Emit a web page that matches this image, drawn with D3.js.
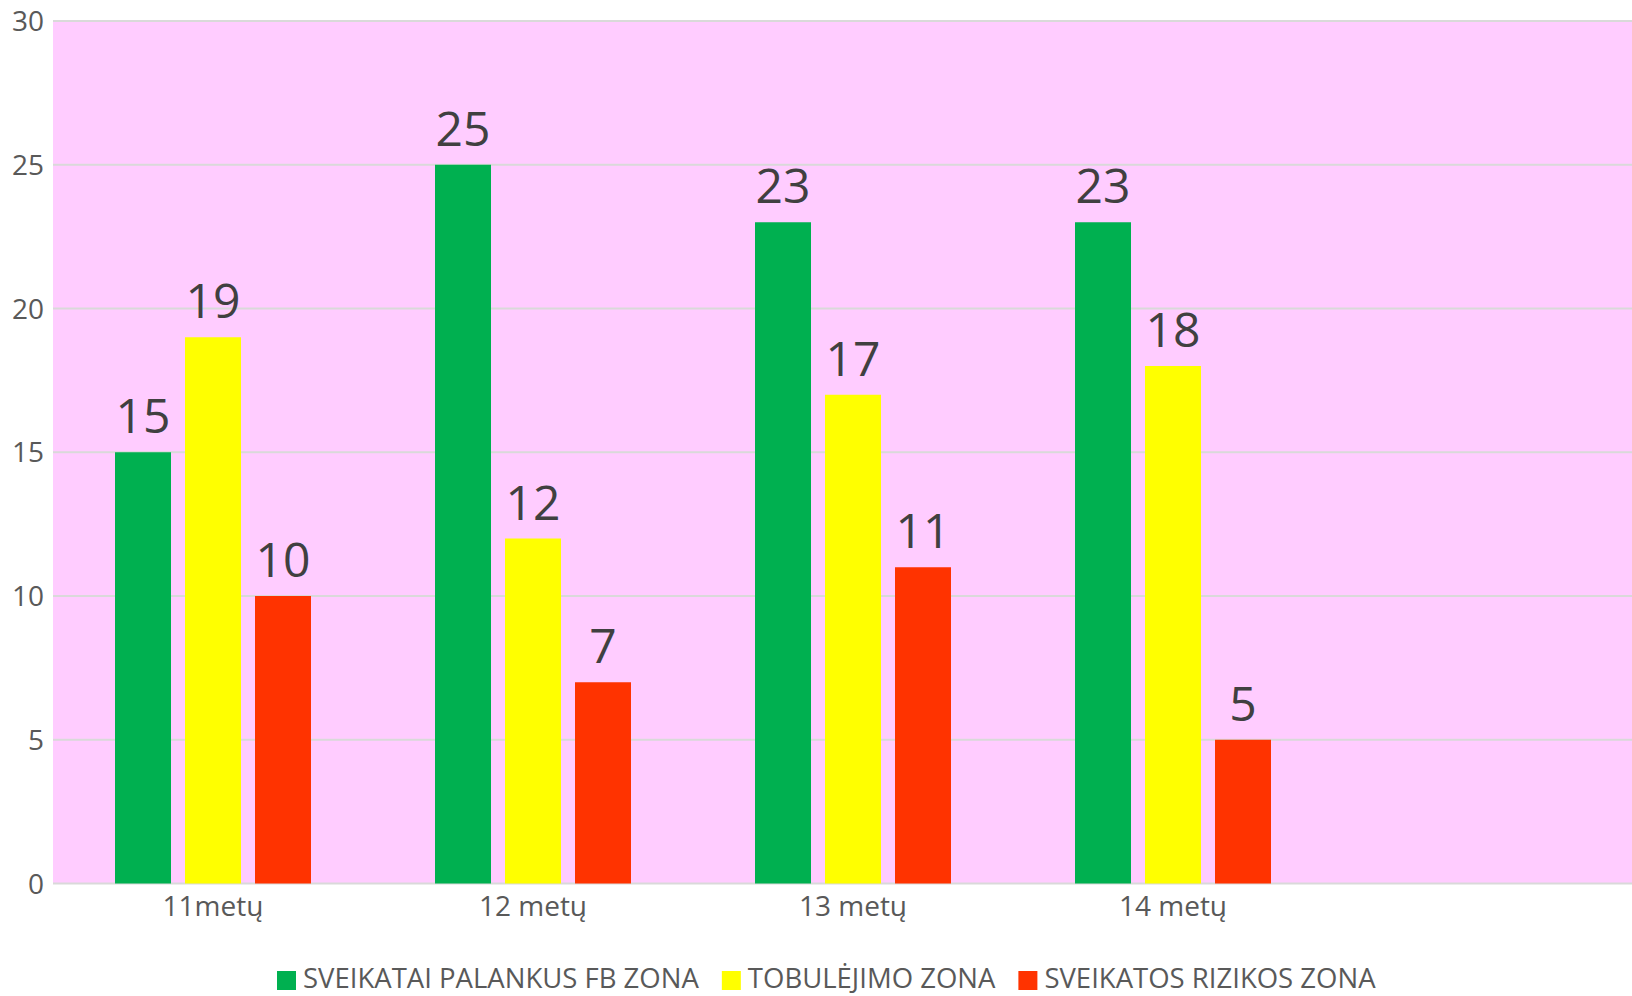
<!DOCTYPE html>
<html>
<head>
<meta charset="utf-8">
<script src="https://cdn.jsdelivr.net/npm/d3@7"></script>
<style>
  body { margin: 0; background: #fff; }
  svg { display: block; font-family: "Open Sans", sans-serif; }
</style>
</head>
<body>
<div id="viz"></div>
<script>
var categories = ["11metų", "12 metų", "13 metų", "14 metų"];
var seriesNames = ["SVEIKATAI PALANKUS FB ZONA", "TOBULĖJIMO ZONA", "SVEIKATOS RIZIKOS ZONA"];
var seriesColors = ["#00B050", "#FFFF00", "#FF3300"];
var palankus = [15, 25, 23, 23];
var tobulejimo = [19, 12, 17, 18];
var rizikos = [10, 7, 11, 5];
var yTicks = [0, 5, 10, 15, 20, 25, 30];

var W = 1632, H = 996;
var margin = { top: 21, left: 53 },
    plotBottom = 883.5,
    bandW = 320;

var svg = d3.select("#viz").append("svg")
    .attr("width", W)
    .attr("height", H);

var x = d3.scaleBand()
    .domain(categories)
    .range([margin.left, margin.left + bandW * categories.length]);

var xs = d3.scaleBand()
    .domain(seriesNames)
    .range([62, 258])
    .paddingInner(0.2);

var y = d3.scaleLinear()
    .domain([0, 30])
    .range([plotBottom, margin.top]);

// plot background
svg.append("rect")
    .attr("x", margin.left)
    .attr("y", y(30))
    .attr("width", W - margin.left)
    .attr("height", y(0) - y(30))
    .attr("fill", "#FFCCFF");

// gridlines
svg.append("g")
    .selectAll("line")
    .data(yTicks).enter()
    .append("line")
    .attr("x1", margin.left)
    .attr("x2", W)
    .attr("y1", d => y(d))
    .attr("y2", d => y(d))
    .attr("stroke", "#D9D9D9")
    .attr("stroke-width", 2);

// y tick labels
svg.append("g")
    .selectAll("text")
    .data(yTicks).enter()
    .append("text")
    .attr("x", 44)
    .attr("y", d => y(d))
    .attr("dy", "0.36em")
    .attr("text-anchor", "end")
    .attr("font-size", 28)
    .attr("fill", "#595959")
    .text(d => d);

var records = [];
categories.forEach(function(c, i) {
    [palankus, tobulejimo, rizikos].forEach(function(arr, j) {
        records.push({ cat: c, series: seriesNames[j], color: seriesColors[j], value: arr[i] });
    });
});

var bars = svg.append("g");
bars.selectAll("rect")
    .data(records).enter()
    .append("rect")
    .attr("x", d => x(d.cat) + xs(d.series))
    .attr("y", d => y(d.value))
    .attr("width", xs.bandwidth())
    .attr("height", d => y(0) - y(d.value))
    .attr("fill", d => d.color);

bars.selectAll("text")
    .data(records).enter()
    .append("text")
    .attr("x", d => x(d.cat) + xs(d.series) + xs.bandwidth() / 2)
    .attr("y", d => y(d.value) - 19)
    .attr("text-anchor", "middle")
    .attr("font-size", 48)
    .attr("fill", "#404040")
    .text(d => d.value);

// x labels
svg.append("g")
    .selectAll("text")
    .data(categories).enter()
    .append("text")
    .attr("x", d => x(d) + x.bandwidth() / 2)
    .attr("y", 916)
    .attr("text-anchor", "middle")
    .attr("font-size", 28)
    .attr("fill", "#595959")
    .text(d => d);

// legend
var legend = svg.append("g");
var lx = 277;
seriesNames.forEach(function(name, i) {
    legend.append("rect")
        .attr("x", lx)
        .attr("y", 971)
        .attr("width", 19)
        .attr("height", 19)
        .attr("fill", seriesColors[i]);
    var t = legend.append("text")
        .attr("x", lx + 26)
        .attr("y", 988)
        .attr("font-size", 27.5)
        .attr("fill", "#595959")
        .text(name);
    lx += 26 + t.node().getComputedTextLength() + 23;
});
</script>
</body>
</html>
